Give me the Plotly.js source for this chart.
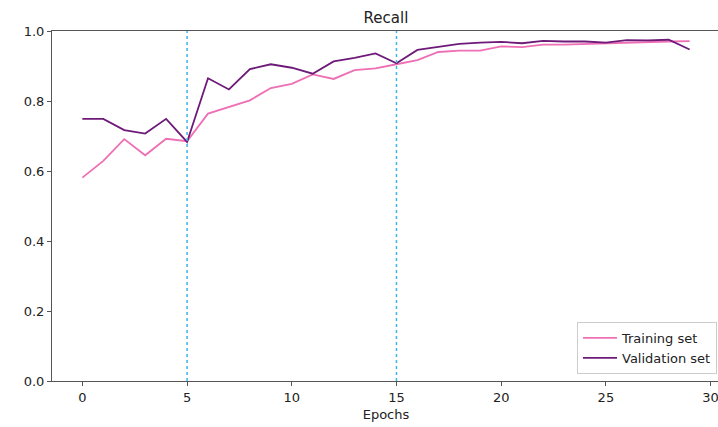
<!DOCTYPE html>
<html>
<head>
<meta charset="utf-8">
<script src="https://cdn.plot.ly/plotly-3.0.1.min.js"></script>
<style>html,body{margin:0;padding:0;overflow:hidden;background:#fff;width:718px;height:427px;}</style>
</head>
<body>
<div id="chart" style="width:720px;height:427px;"></div>
<script>
const epochs = Array.from({length: 30}, (_, i) => i);
const trainingRecall = [0.581, 0.629, 0.691, 0.645, 0.692, 0.685, 0.764, 0.783, 0.802, 0.837,
  0.849, 0.876, 0.863, 0.888, 0.893, 0.905, 0.917, 0.940, 0.944, 0.944,
  0.956, 0.954, 0.961, 0.961, 0.963, 0.966, 0.967, 0.969, 0.970, 0.971];
const validationRecall = [0.749, 0.749, 0.717, 0.707, 0.749, 0.683, 0.865, 0.833, 0.891, 0.905,
  0.895, 0.878, 0.913, 0.923, 0.936, 0.908, 0.946, 0.954, 0.963, 0.967,
  0.969, 0.965, 0.972, 0.970, 0.970, 0.967, 0.974, 0.973, 0.975, 0.947];
const markerEpochs = [5, 15];
const xTicks = [0, 5, 10, 15, 20, 25, 30];
const yTicks = [0, 0.2, 0.4, 0.6, 0.8, 1.0];
const yTickLabels = ['0.0', '0.2', '0.4', '0.6', '0.8', '1.0'];

const traces = [
  {x: epochs, y: trainingRecall, name: 'Training set', type: 'scatter', mode: 'lines',
   line: {color: '#ee6fb4', width: 1.8}},
  {x: epochs, y: validationRecall, name: 'Validation set', type: 'scatter', mode: 'lines',
   line: {color: '#6d1a78', width: 1.8}}
];

const shapes = markerEpochs.map(e => ({
  type: 'line', xref: 'x', yref: 'paper', x0: e, x1: e, y0: 0, y1: 1,
  line: {color: '#3fb4e6', width: 1.5, dash: 'dot'}, layer: 'above'
}));

const layout = {
  width: 720, height: 427,
  margin: {l: 52, r: 0, t: 31, b: 46},
  paper_bgcolor: '#fff', plot_bgcolor: '#fff',
  font: {family: 'DejaVu Sans', size: 12, color: '#222'},
  title: {text: 'Recall', x: 0.5, xref: 'paper', y: 0.958, yanchor: 'middle', font: {size: 15, color: '#222'}},
  xaxis: {
    range: [-1.45, 30.45], tickvals: xTicks, ticktext: xTicks.map(String),
    showgrid: false, zeroline: false, showline: true, mirror: true, linecolor: '#555', linewidth: 1,
    ticks: 'outside', ticklen: 4, tickcolor: '#555',
    title: {text: 'Epochs', font: {size: 13}, standoff: 6}, tickfont: {size: 13}
  },
  yaxis: {
    range: [0, 1], tickvals: yTicks, ticktext: yTickLabels,
    showgrid: false, zeroline: false, showline: true, mirror: true, linecolor: '#555', linewidth: 1,
    ticks: 'outside', ticklen: 4, tickcolor: '#555', tickfont: {size: 13}
  },
  shapes: shapes,
  showlegend: true,
  legend: {x: 0.9955, xanchor: 'right', y: 0.02, yanchor: 'bottom',
    bgcolor: 'rgba(255,255,255,0.8)', bordercolor: '#ccc', borderwidth: 1,
    font: {size: 13}, tracegroupgap: 0, itemwidth: 34}
};

Plotly.newPlot('chart', traces, layout, {displayModeBar: false, staticPlot: true});
</script>
</body>
</html>
